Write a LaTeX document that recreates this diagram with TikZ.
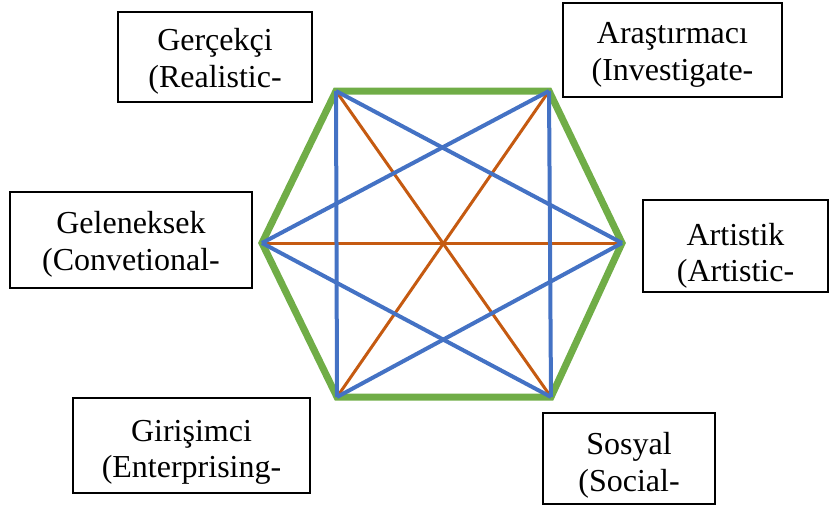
\documentclass[tikz,border=0pt]{standalone}
\usepackage{fontspec}
\setmainfont{Liberation Serif}
\usetikzlibrary{calc}

\definecolor{hexgreen}{HTML}{70AD47}
\definecolor{shortblue}{HTML}{4472C4}
\definecolor{longorange}{HTML}{C55A11}

\tikzset{
    typebox/.style={draw, line width=2pt, align=center, inner sep=0pt,
        font=\fontsize{32}{36.8}\selectfont},
    hexline/.style={hexgreen, line width=7pt},
    shortline/.style={shortblue, line width=4pt},
    longline/.style={longorange, line width=3pt}
}
% top strut pushes the two lines down inside the box
\newcommand{\typetext}[3]{\rule{0pt}{#1pt}#2\\#3}

\begin{document}
\begin{tikzpicture}[x=1pt,y=-1pt]
            \useasboundingbox (0,0) rectangle (829,506);

            % corners of the hexagon
            \coordinate (R) at (336,91);
            \coordinate (I) at (549,91);
            \coordinate (A) at (622,243);
            \coordinate (S) at (551,397);
            \coordinate (E) at (337,397);
            \coordinate (C) at (262,243);

            \draw [hexline] (R) -- (I) -- (A) -- (S) -- (E) -- (C) -- cycle;

            \foreach \a/\b in {R/S, I/E, C/A}
                {
                    \draw [longline] (\a) -- (\b);
                }

            \foreach \a/\b in {R/A, A/E, E/R, I/C, C/S, S/I}
                {
                    \draw [shortline] (\a) -- (\b);
                }

            \node (real) at (215,57) [typebox, minimum width=194, minimum height=90]
                {\typetext{31}{Gerçekçi}{(Realistic-}};
            \node (inv) at (672.5,50) [typebox, minimum width=219, minimum height=94]
                {\typetext{31}{Araştırmacı}{(Investigate-}};
            \node (conv) at (131,240) [typebox, minimum width=242, minimum height=96]
                {\typetext{31}{Geleneksek}{(Convetional-}};
            \node (art) at (735.5,246) [typebox, minimum width=185, minimum height=92]
                {\typetext{42}{Artistik}{(Artistic-}};
            \node (ent) at (191.5,445.5) [typebox, minimum width=237, minimum height=95]
                {\typetext{35}{Girişimci}{(Enterprising-}};
            \node (soc) at (629,458.5) [typebox, minimum width=172, minimum height=91]
                {\typetext{35}{Sosyal}{(Social-}};

        \end{tikzpicture}
\end{document}
